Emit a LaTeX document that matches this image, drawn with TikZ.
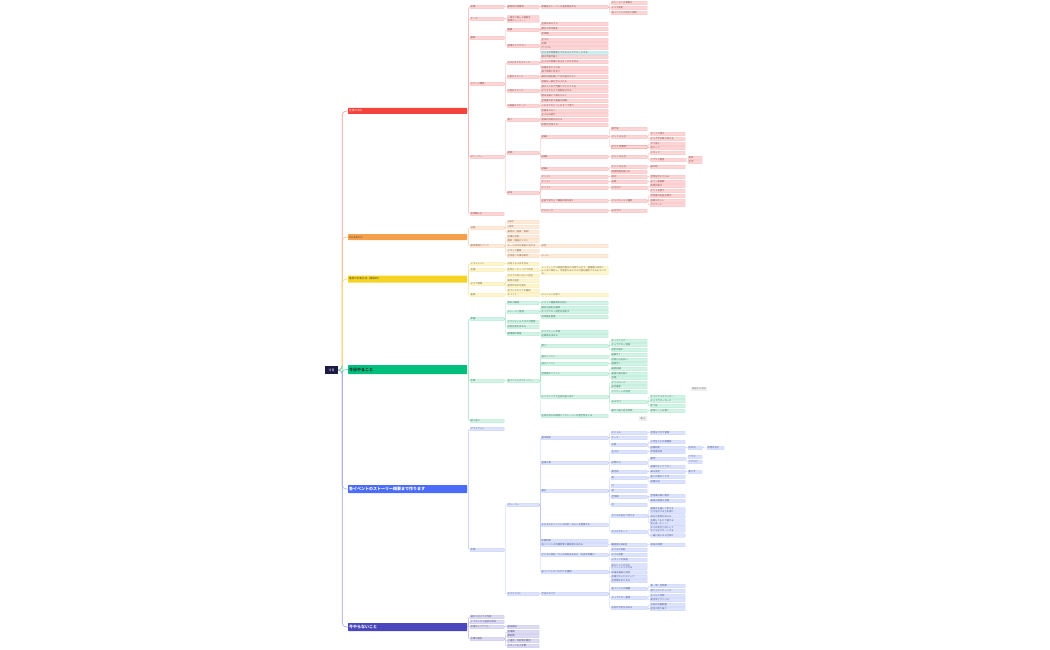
\documentclass[tikz,border=0pt]{standalone}
\usepackage{fontspec}
\setmainfont{Noto Sans CJK JP}
\XeTeXlinebreaklocale "ja"
\makeatletter
\@namedef{lx2}{470}
\@namedef{lx3}{507}
\@namedef{lx4}{541}
\@namedef{lx5}{611}
\@namedef{lx6}{650}
\@namedef{lx7}{688}
\@namedef{lx8}{707}
\makeatother
\definecolor{navy}{HTML}{1B1B45}
\definecolor{mR}{HTML}{F4433A}
\definecolor{mO}{HTML}{F4A04C}
\definecolor{mY}{HTML}{F5D323}
\definecolor{mG}{HTML}{00BF7D}
\definecolor{mB}{HTML}{4B6BFB}
\definecolor{mI}{HTML}{4A47BD}
\definecolor{rF}{HTML}{FCD6D6}\definecolor{rE}{HTML}{F8C2C2}\definecolor{rL}{HTML}{F6AFAF}\definecolor{rT}{HTML}{8A4A4A}
\definecolor{oF}{HTML}{FDEADB}\definecolor{oE}{HTML}{F9D9BE}\definecolor{oL}{HTML}{F6CBA4}\definecolor{oT}{HTML}{8A6548}
\definecolor{yF}{HTML}{FDF5CF}\definecolor{yE}{HTML}{F7E9A8}\definecolor{yL}{HTML}{F2DE8E}\definecolor{yT}{HTML}{7F7040}
\definecolor{gF}{HTML}{D2F3E6}\definecolor{gE}{HTML}{B4EAD4}\definecolor{gL}{HTML}{9EE0C4}\definecolor{gT}{HTML}{3F7A63}
\definecolor{bF}{HTML}{DDE3FD}\definecolor{bE}{HTML}{C8D2FC}\definecolor{bL}{HTML}{B7C3FB}\definecolor{bT}{HTML}{4A5893}
\definecolor{iF}{HTML}{DCDBF2}\definecolor{iE}{HTML}{C9C7EB}\definecolor{iL}{HTML}{B4B1E3}\definecolor{iT}{HTML}{4F4D86}
\definecolor{cyF}{HTML}{CCEFF0}\definecolor{cyE}{HTML}{B2E3E5}
\definecolor{flF}{HTML}{EEEEEE}
\colorlet{nfill}{rF}\colorlet{nedge}{rE}\colorlet{nline}{rL}\colorlet{ntext}{rT}
\newcommand\mmkid[6][]{\node[lv#2,#1] (#3) at (\csname lx#2\endcsname,-#5) {#6};\draw[ln] (#4.east) -- ++(1.2,0) |- (#3.west);}
\tikzset{
  box/.style={anchor=west, fill=nfill, draw=nedge, line width=0.25pt, rounded corners=0.6pt,
    inner xsep=0.6pt, inner ysep=0.35pt, minimum height=3.6pt,
    font=\fontsize{2.3}{2.8}\selectfont, text=ntext, align=left},
  lv2/.style={box, text width=32.8pt},
  lv3/.style={box, text width=30.8pt},
  lv4/.style={box, text width=65.8pt},
  lv5/.style={box, text width=34.8pt},
  lv6/.style={box, text width=33.8pt},
  lv7/.style={box, text width=12.8pt},
  lv8/.style={box, text width=15.8pt},
  ln/.style={draw=nline, line width=0.4pt, rounded corners=1pt},
  mainbar/.style={anchor=west, text width=117pt, align=left, minimum height=6pt, inner xsep=1pt, inner ysep=0.5pt, rounded corners=0.5pt},
  rootln/.style={line width=0.6pt, rounded corners=4pt},
  floatbox/.style={fill=flF, text=gray, font=\fontsize{2.3}{2.8}\selectfont, inner sep=0.8pt, minimum height=4pt}
}
\begin{document}
\begin{tikzpicture}[x=1pt,y=1pt]
\useasboundingbox (0,0) rectangle (1050,-650);
\fill[white] (0,0) rectangle (1050,-650);
% root and main topics
\node[fill=navy, text=white, minimum width=13pt, minimum height=8pt, inner sep=0pt, font=\fontsize{3}{3}\selectfont] (root) at (331.5,-370) {今日};
\node[mainbar, fill=mR, text=white, font=\fontsize{2.6}{3}\selectfont] (m1) at (348,-111) {全体の流れ};
\node[mainbar, fill=mO, text=black!75, font=\fontsize{2.6}{3}\selectfont] (m2) at (348,-237) {Hackathon};
\node[mainbar, fill=mY, text=black!75, minimum height=7pt, font=\fontsize{2.6}{3}\selectfont] (m3) at (348,-279) {進捗の共有方法（最終的）};
\node[mainbar, fill=mG, text=black!85, minimum height=9pt, font=\fontsize{4}{4.5}\selectfont\bfseries] (m4) at (348,-369.5) {今日やること};
\node[mainbar, fill=mB, text=white, minimum height=8pt, font=\fontsize{4}{4.5}\selectfont\bfseries] (m5) at (348,-489) {各イベントのストーリー概要まで作ります};
\node[mainbar, fill=mI, text=white, minimum height=8pt, font=\fontsize{4}{4.5}\selectfont\bfseries] (m6) at (348,-627) {今やらないこと};
\draw[rootln, draw=mR!55] (root.east) -- ++(4,0) |- (m1.west);
\draw[rootln, draw=mO!60] (root.east) -- ++(4,0) |- (m2.west);
\draw[rootln, draw=mY!70] (root.east) -- ++(4,0) |- (m3.west);
\draw[rootln, draw=mG!55] (root.east) -- ++(4,0) |- (m4.west);
\draw[rootln, draw=mB!50] (root.east) -- ++(4,0) |- (m5.west);
\draw[rootln, draw=mI!50] (root.east) -- ++(4,0) |- (m6.west);

% ---------------- RED ----------------
\begin{scope}
\colorlet{nfill}{rF}\colorlet{nedge}{rE}\colorlet{nline}{rL}\colorlet{ntext}{rT}
\mmkid{2}{r1}{m1}{7}{目標}
\mmkid{3}{r1a}{r1}{7}{最終的な成果物}
\mmkid{4}{r1a1}{r1a}{7}{体験型ストーリーの全体像を作る}
\mmkid{5}{r1a1a}{r1a1}{3}{ストーリーの骨組み}
\mmkid{5}{r1a1b}{r1a1}{8}{キャラ設定}
\mmkid{5}{r1a1c}{r1a1}{13}{各イベントの流れと順序}
\mmkid{2}{r2}{m1}{19}{テーマ}
\mmkid[minimum height=7pt]{3}{r2a}{r2}{19}{〜親子で楽しむ謎解き\\冒険ストーリー〜}
\mmkid{2}{r3}{m1}{38}{構成}
\mmkid{3}{r3a}{r3}{30}{概要}
\mmkid{4}{r3a1}{r3a}{24}{全体のあらすじ}
\mmkid{4}{r3a2}{r3a}{29}{舞台と時代設定}
\mmkid{4}{r3a3}{r3a}{34}{世界観}
\mmkid{3}{r3b}{r3}{46}{登場キャラクター}
\mmkid{4}{r3b1}{r3b}{40}{主人公}
\mmkid{4}{r3b2}{r3b}{44}{仲間}
\mmkid{4}{r3b3}{r3b}{48}{ライバル}
\mmkid[fill=cyF,draw=cyE]{4}{r3b4}{r3b}{53}{子どもが感情移入できるキャラクターにする}
\mmkid{2}{r4}{m1}{84}{ステージ構成}
\mmkid{3}{r4a}{r4}{63}{1.はじまりのステージ}
\mmkid{4}{r4a1}{r4a}{57}{謎の手紙が届く}
\mmkid{4}{r4a2}{r4a}{62}{主人公が冒険に出るきっかけを作る}
\mmkid{4}{r4a3}{r4a}{68}{地図を手に入れる}
\mmkid{3}{r4b}{r4}{77}{2.森のステージ}
\mmkid{4}{r4b1}{r4b}{72}{森で仲間と出会う}
\mmkid{4}{r4b2}{r4b}{77}{最初の謎を解いて次の道がひらく}
\mmkid{4}{r4b3}{r4b}{82}{地図の一部を手に入れる}
\mmkid{3}{r4c}{r4}{91}{3.城のステージ}
\mmkid{4}{r4c1}{r4c}{87}{城の入り口で門番とやりとりする}
\mmkid{4}{r4c2}{r4c}{91}{子どもと大人で役割を分ける}
\mmkid{4}{r4c3}{r4c}{96}{暗号を解いて扉をひらく}
\mmkid{3}{r4d}{r4}{106}{4.最後のステージ}
\mmkid{4}{r4d1}{r4d}{101}{宝物庫の前で最後の試練}
\mmkid{4}{r4d2}{r4d}{106}{これまでのヒントをすべて使う}
\mmkid{4}{r4d3}{r4d}{111}{宝箱をひらく}
\mmkid{2}{r5}{m1}{157}{ストーリー}
\mmkid{3}{r5a}{r5}{120}{導入}
\mmkid{4}{r5a1}{r5a}{115}{主人公の紹介}
\mmkid{4}{r5a2}{r5a}{120}{冒険の目的を伝える}
\mmkid{4}{r5a3}{r5a}{125}{仲間が合流する}
\mmkid{3}{r5b}{r5}{153}{展開}
\mmkid{4}{r5b1}{r5b}{137}{試練1}
\mmkid{5}{r5b1a}{r5b1}{129}{進行役}
\mmkid{5}{r5b1b}{r5b1}{137}{ヒント 出し方}
\mmkid{6}{r5b1b1}{r5b1b}{134}{カードで渡す}
\mmkid{6}{r5b1b2}{r5b1b}{139}{キャラが口頭で伝える}
\mmkid[draw=mR!70]{5}{r5b1c}{r5b1}{147}{ヒント 失敗時}
\mmkid{6}{r5b1c1}{r5b1c}{144}{やり直し}
\mmkid{6}{r5b1c2}{r5b1c}{148}{別ルート}
\mmkid{4}{r5b2}{r5b}{157}{試練2}
\mmkid{5}{r5b2a}{r5b2}{157}{ヒント 出し方}
\mmkid{6}{r5b2a1}{r5b2a}{153}{スタッフ}
\mmkid{6}{r5b2a2}{r5b2a}{160}{アプリで配信}
\mmkid{7}{r5b2a2a}{r5b2a2}{158}{音声}
\mmkid{7}{r5b2a2b}{r5b2a2}{162}{文字}
\mmkid{4}{r5b3}{r5b}{169}{試練3}
\mmkid{5}{r5b3a}{r5b3}{167}{ヒント 出し方}
\mmkid{6}{r5b3a1}{r5b3a}{167}{掲示板}
\mmkid{5}{r5b3b}{r5b3}{172}{制限時間を設ける}
\mmkid{3}{r5c}{r5}{193}{結末}
\mmkid{4}{r5c1}{r5c}{177}{エンド1}
\mmkid{5}{r5c1a}{r5c1}{177}{成功}
\mmkid{6}{r5c1a1}{r5c1a}{177}{宝物を手に入れる}
\mmkid{4}{r5c2}{r5c}{182}{エンド2}
\mmkid{5}{r5c2a}{r5c2}{182}{失敗}
\mmkid{6}{r5c2a1}{r5c2a}{182}{もう一度挑戦}
\mmkid{4}{r5c3}{r5c}{188}{エンド3}
\mmkid{5}{r5c3a}{r5c3}{188}{引き分け}
\mmkid{6}{r5c3a1}{r5c3a}{186}{仲間の助け}
\mmkid{6}{r5c3a2}{r5c3a}{191}{ヒントを使う}
\mmkid{4}{r5c4}{r5c}{201}{全員で協力して最後の謎を解く}
\mmkid{5}{r5c4a}{r5c4}{201}{エンドロールと撮影}
\mmkid{6}{r5c4a1}{r5c4a}{196}{参加者の名前を表示}
\mmkid{6}{r5c4a2}{r5c4a}{201}{写真スポット}
\mmkid{6}{r5c4a3}{r5c4a}{205}{アンケート}
\mmkid{4}{r5c5}{r5c}{211}{エピローグ}
\mmkid{5}{r5c5a}{r5c5}{211}{おみやげ}
\mmkid{2}{r6}{m1}{214}{世界観メモ}
\end{scope}

% ---------------- ORANGE ----------------
\begin{scope}
\colorlet{nfill}{oF}\colorlet{nedge}{oE}\colorlet{nline}{oL}\colorlet{ntext}{oT}
\mmkid{2}{o1}{m2}{228}{日程}
\mmkid{3}{o1a}{o1}{222}{1日目}
\mmkid{3}{o1b}{o1}{227}{2日目}
\mmkid{3}{o1c}{o1}{232}{最終日（発表・表彰）}
\mmkid{2}{o2}{m2}{246}{事前準備について}
\mmkid{3}{o2a}{o2}{237}{会場の手配}
\mmkid{3}{o2b}{o2}{241}{機材・備品のリスト}
\mmkid{3}{o2c}{o2}{246}{チーム分けを事前に決める}
\mmkid{3}{o2d}{o2}{251}{スタッフ募集}
\mmkid{3}{o2e}{o2}{256}{参加者への事前案内}
\mmkid{4}{o2c1}{o2c}{246}{未定}
\mmkid{4}{o2e1}{o2e}{256}{メール}
\end{scope}

% ---------------- YELLOW ----------------
\begin{scope}
\colorlet{nfill}{yF}\colorlet{nedge}{yE}\colorlet{nline}{yL}\colorlet{ntext}{yT}
\mmkid{2}{y1}{m3}{264}{ドキュメント}
\mmkid{3}{y1a}{y1}{264}{共有フォルダを作る}
\mmkid{2}{y2}{m3}{270}{会議}
\mmkid{3}{y2a}{y2}{270}{定例ミーティングで共有}
\mmkid{4}{y2a1}{y2a}{270.5}{ミーティングは毎週月曜日の10時から行う。議事録は共有フォルダに保存し、欠席者もあとから内容を確認できるようにする。}
\mmkid{2}{y3}{m3}{284}{タスク管理}
\mmkid{3}{y3a}{y3}{276}{タスクの洗い出しと担当}
\mmkid{3}{y3b}{y3}{281}{期限の設定}
\mmkid{3}{y3c}{y3}{286}{進捗状況の可視化}
\mmkid{3}{y3d}{y3}{291}{完了したタスクの確認}
\mmkid{2}{y4}{m3}{295}{連絡}
\mmkid{3}{y4a}{y4}{295}{チャット}
\mmkid{4}{y4a1}{y4a}{295}{メンションを使う}
\end{scope}

% ---------------- GREEN ----------------
\begin{scope}
\colorlet{nfill}{gF}\colorlet{nedge}{gE}\colorlet{nline}{gL}\colorlet{ntext}{gT}
\mmkid{2}{g1}{m4}{319}{準備}
\mmkid{3}{g1a}{g1}{303}{資料の確認}
\mmkid{4}{g1a1}{g1a}{303}{イベント概要資料を読む}
\mmkid{3}{g1b}{g1}{312}{ストーリー整理}
\mmkid{4}{g1b1}{g1b}{308}{既存の設定を確認}
\mmkid{4}{g1b2}{g1b}{312}{キャラクター設定を見直す}
\mmkid{4}{g1b3}{g1b}{317}{世界観を整理}
\mmkid{3}{g1c}{g1}{322}{スケジュールとタスク確認}
\mmkid{3}{g1d}{g1}{327}{役割分担を決める}
\mmkid{3}{g1e}{g1}{334}{議事録の準備}
\mmkid{4}{g1e1}{g1e}{332}{テンプレート作成}
\mmkid{4}{g1e2}{g1e}{336}{記録係を決める}
\mmkid{2}{g2}{m4}{381}{作業}
\mmkid{3}{g2a}{g2}{381}{各イベントのストーリー}
\mmkid{4}{g2a1}{g2a}{346}{導入}
\mmkid{5}{g2a1a}{g2a1}{341}{オープニング}
\mmkid{5}{g2a1b}{g2a1}{345}{キャラクター登場}
\mmkid{5}{g2a1c}{g2a1}{350}{目的の提示}
\mmkid{4}{g2a2}{g2a}{357}{森のイベント}
\mmkid{5}{g2a2a}{g2a2}{355}{謎解き1}
\mmkid{5}{g2a2b}{g2a2}{360}{仲間との出会い}
\mmkid{4}{g2a3}{g2a}{364}{城のイベント}
\mmkid{5}{g2a3a}{g2a3}{364}{謎解き2}
\mmkid{4}{g2a4}{g2a}{374}{宝物庫のイベント}
\mmkid{5}{g2a4a}{g2a4}{369}{最終試練}
\mmkid{5}{g2a4b}{g2a4}{374}{最後の謎を解く}
\mmkid{5}{g2a4c}{g2a4}{378}{宝箱}
\mmkid{4}{g2a5}{g2a}{397}{エンディングと全体の振り返り}
\mmkid{5}{g2a5a}{g2a5}{383}{エンドロール}
\mmkid{5}{g2a5b}{g2a5}{387}{記念撮影}
\mmkid{5}{g2a5c}{g2a5}{392}{アンケートの回収}
\mmkid{5}{g2a5d}{g2a5}{402}{おみやげ}
\mmkid{6}{g2a5d1}{g2a5d}{397}{オリジナルステッカー}
\mmkid{6}{g2a5d2}{g2a5d}{401}{キャラクターカード}
\mmkid{6}{g2a5d3}{g2a5d}{406}{修了証}
\mmkid{5}{g2a5e}{g2a5}{411}{親子で振り返る時間}
\mmkid{6}{g2a5e1}{g2a5e}{411}{感想シートを書く}
\mmkid{4}{g2a6}{g2a}{416}{全体の流れを確認してストーリーの整合性をとる}
\mmkid{2}{g3}{m4}{421}{振り返り}
\end{scope}
\node[floatbox] (fl1) at (699,-389) {保留中の項目};
\node[floatbox, minimum width=8pt, minimum height=5pt] (fl2) at (643,-418.5) {親子};

% ---------------- BLUE ----------------
\begin{scope}
\colorlet{nfill}{bF}\colorlet{nedge}{bE}\colorlet{nline}{bL}\colorlet{ntext}{bT}
\mmkid{2}{b1}{m5}{429}{アウトプット}
\mmkid{2}{b2}{m5}{550}{作業}
\mmkid{3}{b2a}{b2}{505}{ストーリー}
\mmkid{4}{b2a1}{b2a}{438}{基本設定}
\mmkid{5}{b2a1a}{b2a1}{433}{タイトル}
\mmkid{6}{b2a1a1}{b2a1a}{433}{宝物をさがす冒険}
\mmkid{5}{b2a1b}{b2a1}{438}{テーマ}
\mmkid{5}{b2a1c}{b2a1}{445}{対象}
\mmkid{6}{b2a1c1}{b2a1c}{442}{小学生とその保護者}
\mmkid{6}{b2a1c2}{b2a1c}{448}{所要時間}
\mmkid{7}{b2a1c2a}{b2a1c2}{448}{約90分}
\mmkid{8}{b2a1c2a1}{b2a1c2a}{448}{休憩を含む}
\mmkid{4}{b2a2}{b2a}{463}{登場人物}
\mmkid{5}{b2a2a}{b2a2}{452}{主人公}
\mmkid{6}{b2a2a1}{b2a2a}{452}{参加者自身}
\mmkid{5}{b2a2b}{b2a2}{463}{仲間たち}
\mmkid{6}{b2a2b1}{b2a2b}{459}{動物}
\mmkid{7}{b2a2b1a}{b2a2b1}{457}{ウサギ}
\mmkid{7}{b2a2b1b}{b2a2b1}{462}{フクロウ}
\mmkid{6}{b2a2b2}{b2a2b}{467}{妖精のキャラクター}
\mmkid{5}{b2a2c}{b2a2}{472}{案内役}
\mmkid{6}{b2a2c1}{b2a2c}{472}{森の長老}
\mmkid{7}{b2a2c1a}{b2a2c1}{472}{語り手}
\mmkid{4}{b2a3}{b2a}{491}{舞台}
\mmkid{5}{b2a3a}{b2a3}{478}{森}
\mmkid{6}{b2a3a1}{b2a3a}{477}{迷いの森の入り口}
\mmkid{6}{b2a3a2}{b2a3a}{482}{妖精の泉}
\mmkid{5}{b2a3b}{b2a3}{486}{川}
\mmkid{5}{b2a3c}{b2a3}{491}{城}
\mmkid{5}{b2a3d}{b2a3}{497}{宝物庫}
\mmkid{6}{b2a3d1}{b2a3d}{496}{宝物庫の扉と暗号}
\mmkid{6}{b2a3d2}{b2a3d}{501}{最後の部屋の宝箱}
\mmkid{5}{b2a3e}{b2a3}{505}{村}
\mmkid{4}{b2a4}{b2a}{525}{それぞれのイベントの目的・ねらいを整理する}
\mmkid{5}{b2a4a}{b2a4}{516}{子どもが自分で考える}
\mmkid[minimum height=6.5pt]{6}{b2a4a1}{b2a4a}{510.5}{謎解きを通して考える\\力や協力する力を育む}
\mmkid{6}{b2a4a2}{b2a4a}{516.5}{自分の意見を伝える}
\mmkid[minimum height=6.5pt]{6}{b2a4a3}{b2a4a}{522.5}{失敗してもやり直せる\\安心感（ヒント）}
\mmkid{5}{b2a4b}{b2a4}{532}{大人のサポート}
\mmkid[minimum height=6.5pt]{6}{b2a4b1}{b2a4b}{529}{大人は見守り役として\\子どもをサポートする}
\mmkid{6}{b2a4b2}{b2a4b}{535.5}{一緒に楽しめる仕掛け}
\mmkid{4}{b2a5}{b2a}{541}{所要時間}
\mmkid{4}{b2a6}{b2a}{545}{各イベントの所要時間と難易度を決める}
\mmkid{5}{b2a6a}{b2a6}{545}{難易度は3段階}
\mmkid{6}{b2a6a1}{b2a6a}{545}{目安の時間}
\mmkid{4}{b2a7}{b2a}{555}{子どもの役割・大人の役割を決める（分担を明確に）}
\mmkid{5}{b2a7a}{b2a7}{550}{子どもの役割}
\mmkid{5}{b2a7b}{b2a7}{555}{大人の役割}
\mmkid{5}{b2a7c}{b2a7}{560}{スタッフの役割}
\mmkid{4}{b2a8}{b2a}{572}{各イベントのつながりを確認}
\mmkid[minimum height=6.5pt]{5}{b2a8a}{b2a8}{566.5}{前のヒントが次の\\イベントにつながる}
\mmkid{5}{b2a8b}{b2a8}{572.5}{伏線を最後に回収}
\mmkid{5}{b2a8c}{b2a8}{577}{矛盾がないかチェック}
\mmkid{3}{b2b}{b2}{594}{タスクリスト}
\mmkid{4}{b2b1}{b2b}{594}{今日のタスク}
\mmkid{5}{b2b1a}{b2b1}{581}{全体像をまとめる}
\mmkid{5}{b2b1b}{b2b1}{589}{各イベントの概要}
\mmkid{6}{b2b1b1}{b2b1b}{586}{森・城・宝物庫}
\mmkid{6}{b2b1b2}{b2b1b}{591}{導入とエンディング}
\mmkid{5}{b2b1c}{b2b1}{598}{キャラクター整理}
\mmkid{6}{b2b1c1}{b2b1c}{596}{主人公と仲間}
\mmkid{6}{b2b1c2}{b2b1c}{600}{案内役とライバル}
\mmkid{5}{b2b1d}{b2b1}{608}{次回の予定を決める}
\mmkid{6}{b2b1d1}{b2b1d}{605}{次回の日程調整}
\mmkid{6}{b2b1d2}{b2b1d}{609}{担当の割り振り}
\end{scope}

% ---------------- INDIGO ----------------
\begin{scope}
\colorlet{nfill}{iF}\colorlet{nedge}{iE}\colorlet{nline}{iL}\colorlet{ntext}{iT}
\mmkid{2}{i1}{m6}{617}{細かいセリフの作成}
\mmkid{2}{i2}{m6}{622}{イラストや小道具の作成}
\mmkid{2}{i3}{m6}{627}{会場のレイアウト}
\mmkid{3}{i3a}{i3}{627}{後日検討}
\mmkid{2}{i4}{m6}{639}{予算の検討}
\mmkid{3}{i4a}{i4}{632}{会場費}
\mmkid{3}{i4b}{i4}{636}{機材費}
\mmkid{3}{i4c}{i4}{641}{小道具・印刷物の費用}
\mmkid{3}{i4d}{i4}{646}{スタッフの人件費}
\end{scope}
\end{tikzpicture}
\end{document}
